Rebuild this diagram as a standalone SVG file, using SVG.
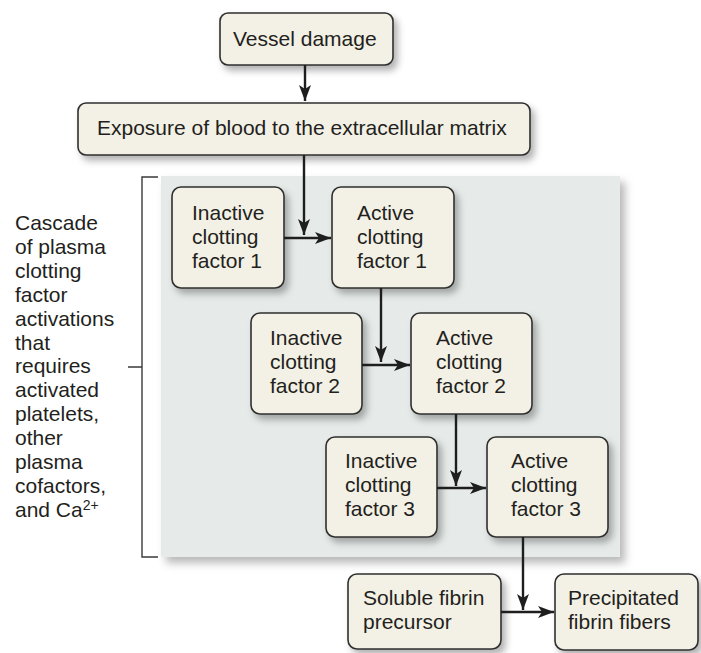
<svg xmlns="http://www.w3.org/2000/svg" width="701" height="653" viewBox="0 0 701 653">
  <style>
    .box { fill: #f3f1e5; stroke: #2f2f2f; stroke-width: 1.6; filter: url(#shadow); }
    .lbl { font-family: "Liberation Sans", Arial, Helvetica, sans-serif; font-size: 21px; fill: #231f20; }
    .wire { fill: none; stroke: #1e1e1e; stroke-width: 2.4; }
    .bracket { fill: none; stroke: #3a3a3a; stroke-width: 1.4; }
  </style>
  <defs>
    <filter id="shadow" x="-10%" y="-10%" width="130%" height="140%">
      <feDropShadow dx="4" dy="5" stdDeviation="3.5" flood-color="#000" flood-opacity="0.3"/>
    </filter>
    <filter id="panelShadow" x="-5%" y="-5%" width="115%" height="115%">
      <feDropShadow dx="5" dy="6" stdDeviation="4" flood-color="#000" flood-opacity="0.28"/>
    </filter>
    <marker id="head" markerWidth="18" markerHeight="14" refX="16" refY="7" orient="auto" markerUnits="userSpaceOnUse">
      <path d="M0,1 L16,7 L0,13 L4,7 Z" fill="#1e1e1e"/>
    </marker>
  </defs>

  <rect width="701" height="653" fill="#ffffff"/>

  <!-- shaded panel holding the activation cascade -->
  <rect id="cascade-panel" x="161" y="176" width="459" height="381" fill="#e6ebe9" filter="url(#panelShadow)"/>

  <!-- bracket and caption on the left -->
  <g id="cascade-caption">
    <path class="bracket" d="M158,177 H142 V557 H158 M142,367 H128"/>
    <text class="lbl" x="15">
      <tspan x="15" y="230">Cascade</tspan>
      <tspan x="15" y="254">of plasma</tspan>
      <tspan x="15" y="278">clotting</tspan>
      <tspan x="15" y="302">factor</tspan>
      <tspan x="15" y="326">activations</tspan>
      <tspan x="15" y="350">that</tspan>
      <tspan x="15" y="373">requires</tspan>
      <tspan x="15" y="397">activated</tspan>
      <tspan x="15" y="421">platelets,</tspan>
      <tspan x="15" y="445">other</tspan>
      <tspan x="15" y="469">plasma</tspan>
      <tspan x="15" y="493">cofactors,</tspan>
      <tspan x="15" y="517">and Ca<tspan font-size="14" dy="-7">2+</tspan></tspan>
    </text>
  </g>

  <g id="vessel-damage">
    <rect class="box" x="220" y="13" width="173" height="52" rx="8"/>
    <text class="lbl" x="233" y="46">Vessel damage</text>
  </g>

  <g id="exposure">
    <rect class="box" x="78" y="103" width="452" height="52" rx="8"/>
    <text class="lbl" x="97" y="135">Exposure of blood to the extracellular matrix</text>
  </g>

  <g id="inactive-1">
    <rect class="box" x="172" y="187" width="112" height="101" rx="9"/>
    <text class="lbl"><tspan x="192" y="220">Inactive</tspan><tspan x="192" y="244">clotting</tspan><tspan x="192" y="268">factor 1</tspan></text>
  </g>

  <g id="active-1">
    <rect class="box" x="332" y="187" width="122" height="101" rx="9"/>
    <text class="lbl"><tspan x="357" y="220">Active</tspan><tspan x="357" y="244">clotting</tspan><tspan x="357" y="268">factor 1</tspan></text>
  </g>

  <g id="inactive-2">
    <rect class="box" x="251" y="313" width="111" height="101" rx="9"/>
    <text class="lbl"><tspan x="270" y="345">Inactive</tspan><tspan x="270" y="369">clotting</tspan><tspan x="270" y="393">factor 2</tspan></text>
  </g>

  <g id="active-2">
    <rect class="box" x="411" y="313" width="121" height="101" rx="9"/>
    <text class="lbl"><tspan x="436" y="345">Active</tspan><tspan x="436" y="369">clotting</tspan><tspan x="436" y="393">factor 2</tspan></text>
  </g>

  <g id="inactive-3">
    <rect class="box" x="326" y="437" width="111" height="100" rx="9"/>
    <text class="lbl"><tspan x="345" y="468">Inactive</tspan><tspan x="345" y="492">clotting</tspan><tspan x="345" y="516">factor 3</tspan></text>
  </g>

  <g id="active-3">
    <rect class="box" x="487" y="437" width="121" height="100" rx="9"/>
    <text class="lbl"><tspan x="511" y="468">Active</tspan><tspan x="511" y="492">clotting</tspan><tspan x="511" y="516">factor 3</tspan></text>
  </g>

  <g id="soluble-fibrin">
    <rect class="box" x="348" y="574" width="153" height="75" rx="9"/>
    <text class="lbl"><tspan x="363" y="605">Soluble fibrin</tspan><tspan x="363" y="629">precursor</tspan></text>
  </g>

  <g id="precipitated-fibrin">
    <rect class="box" x="555" y="574" width="143" height="76" rx="9"/>
    <text class="lbl"><tspan x="568" y="605">Precipitated</tspan><tspan x="568" y="629">fibrin fibers</tspan></text>
  </g>

  <g id="connectors">
    <line class="wire" x1="305" y1="65" x2="305" y2="101" marker-end="url(#head)"/>
    <line class="wire" x1="304" y1="155" x2="304" y2="235" marker-end="url(#head)"/>
    <line class="wire" x1="284" y1="238" x2="331" y2="238" marker-end="url(#head)"/>
    <line class="wire" x1="381" y1="288" x2="381" y2="362" marker-end="url(#head)"/>
    <line class="wire" x1="362" y1="365" x2="410" y2="365" marker-end="url(#head)"/>
    <line class="wire" x1="456" y1="414" x2="456" y2="486" marker-end="url(#head)"/>
    <line class="wire" x1="437" y1="488" x2="486" y2="488" marker-end="url(#head)"/>
    <line class="wire" x1="523" y1="537" x2="523" y2="610" marker-end="url(#head)"/>
    <line class="wire" x1="501" y1="612" x2="554" y2="612" marker-end="url(#head)"/>
  </g>
</svg>
